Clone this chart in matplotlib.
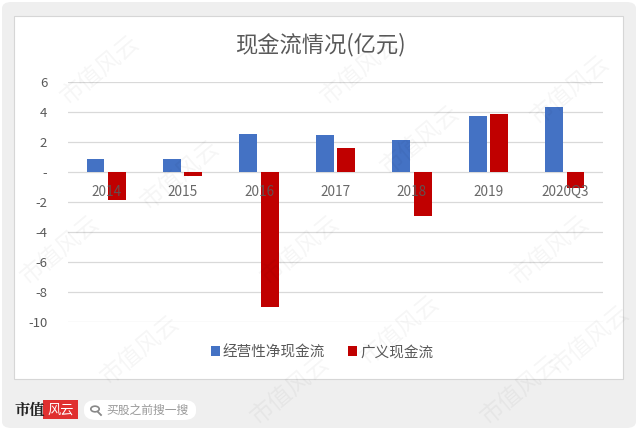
import matplotlib
matplotlib.use("Agg")
import matplotlib.pyplot as plt
from matplotlib.patches import FancyBboxPatch, Rectangle, Circle
from matplotlib.lines import Line2D
import numpy as np

plt.rcParams['font.family'] = ['Noto Sans CJK SC', 'DejaVu Sans']

categories = ["2014", "2015", "2016", "2017", "2018", "2019", "2020Q3"]
operating_cf = [0.85, 0.85, 2.53, 2.47, 2.13, 3.75, 4.35]
broad_cf = [-1.87, -0.27, -9.0, 1.6, -2.93, 3.9, -1.07]
series_names = ["经营性净现金流", "广义现金流"]
title = "现金流情况(亿元)"
yticks = [6, 4, 2, 0, -2, -4, -6, -8, -10]

BLUE = "#4472C4"
RED = "#C00000"
GREY_TXT = "#595959"

W, H = 640, 430
fig = plt.figure(figsize=(W / 100, H / 100), dpi=100)
fig.patch.set_facecolor("white")

# outer grey frame
bg = FancyBboxPatch((2 / W, 2 / H), 634 / W, 426 / H,
                    boxstyle="round,pad=0,rounding_size=0.015",
                    transform=fig.transFigure, facecolor="#efefef",
                    edgecolor="none", zorder=-2)
fig.patches.append(bg)
# white card
card = Rectangle((14 / W, 1 - 379 / H), (623 - 14) / W, (379 - 16) / H,
                 transform=fig.transFigure, facecolor="white",
                 edgecolor="#d6d6d6", linewidth=0.8, zorder=-1)
fig.patches.append(card)

ax = fig.add_axes([68 / W, 1 - 322 / H, (603 - 68) / W, (322 - 82) / H])
ax.set_facecolor("none")
x = np.arange(len(categories))
bw = 0.235
off = 0.14
b1 = ax.bar(x - off, operating_cf, bw, color=BLUE, zorder=3, label=series_names[0])
b2 = ax.bar(x + off, broad_cf, bw, color=RED, zorder=3, label=series_names[1])

ax.set_xlim(-0.5, len(categories) - 0.5)
ax.set_ylim(-10, 6)
ax.set_yticks(yticks)
ax.set_yticklabels(["-" if v == 0 else str(v) for v in yticks], color=GREY_TXT, fontsize=9.5)
ax.yaxis.grid(True, color="#d9d9d9", linewidth=0.9, zorder=0)
ax.set_axisbelow(True)
for s in ax.spines.values():
    s.set_visible(False)
ax.tick_params(axis="y", length=0, pad=15)

ax.set_xticks([])
for xi, c in zip(x, categories):
    ax.text(xi, -1.32, c, ha="center", va="center", fontsize=9.8,
            color=GREY_TXT, alpha=0.9, zorder=4)

fig.text(320 / W, 1 - 45 / H, title, ha="center", va="center",
         fontsize=16, color=GREY_TXT)

leg = fig.legend(handles=[b1, b2], labels=series_names, loc="center",
                 bbox_to_anchor=(322 / W, 1 - 352 / H), ncol=2, frameon=False,
                 fontsize=10.5, handlelength=0.6, handleheight=0.6,
                 handletextpad=0.2, columnspacing=1.6)
for t in leg.get_texts():
    t.set_color(GREY_TXT)

# watermarks
for (wx, wy) in [(100, 70), (360, 70), (570, 90), (180, 175), (420, 140),
                 (60, 250), (300, 250), (550, 250), (140, 350), (400, 330),
                 (590, 340), (290, 390), (520, 390)]:
    fig.text(wx / W, 1 - wy / H, "市值风云", rotation=40, fontsize=17,
             color="#000000", alpha=0.04, ha="center", va="center", zorder=10)

# bottom logo
fig.text(15 / W, 1 - 410 / H, "市值", fontsize=11, fontweight="bold",
         color="#222222", ha="left", va="center",
         family=["Noto Serif CJK SC", "Noto Sans CJK SC"])
logo = Rectangle((43 / W, 1 - 419 / H), 35 / W, 19 / H, transform=fig.transFigure,
                 facecolor="#e03030", edgecolor="none")
fig.patches.append(logo)
fig.text(60.5 / W, 1 - 410 / H, "风云", fontsize=9.5, color="white",
         style="italic", ha="center", va="center")
pill = FancyBboxPatch((84 / W, 1 - 420 / H), 112 / W, 20 / H,
                      boxstyle="round,pad=0,rounding_size=0.02",
                      transform=fig.transFigure, facecolor="white",
                      edgecolor="none")
fig.patches.append(pill)
# magnifier icon as shape
mag = Circle((95 / W, 1 - 409 / H), 4.2 / W, transform=fig.transFigure,
             facecolor="none", edgecolor="#888888", linewidth=1.2)
fig.patches.append(mag)
fig.lines.append(Line2D([98 / W, 101 / W], [1 - 412 / H, 1 - 415 / H],
                        transform=fig.transFigure, color="#888888", linewidth=1.3))
fig.text(106 / W, 1 - 410 / H, "买股之前搜一搜", fontsize=8.5, color="#999999",
         ha="left", va="center")

fig.savefig("out.png", dpi=100, facecolor="white")
